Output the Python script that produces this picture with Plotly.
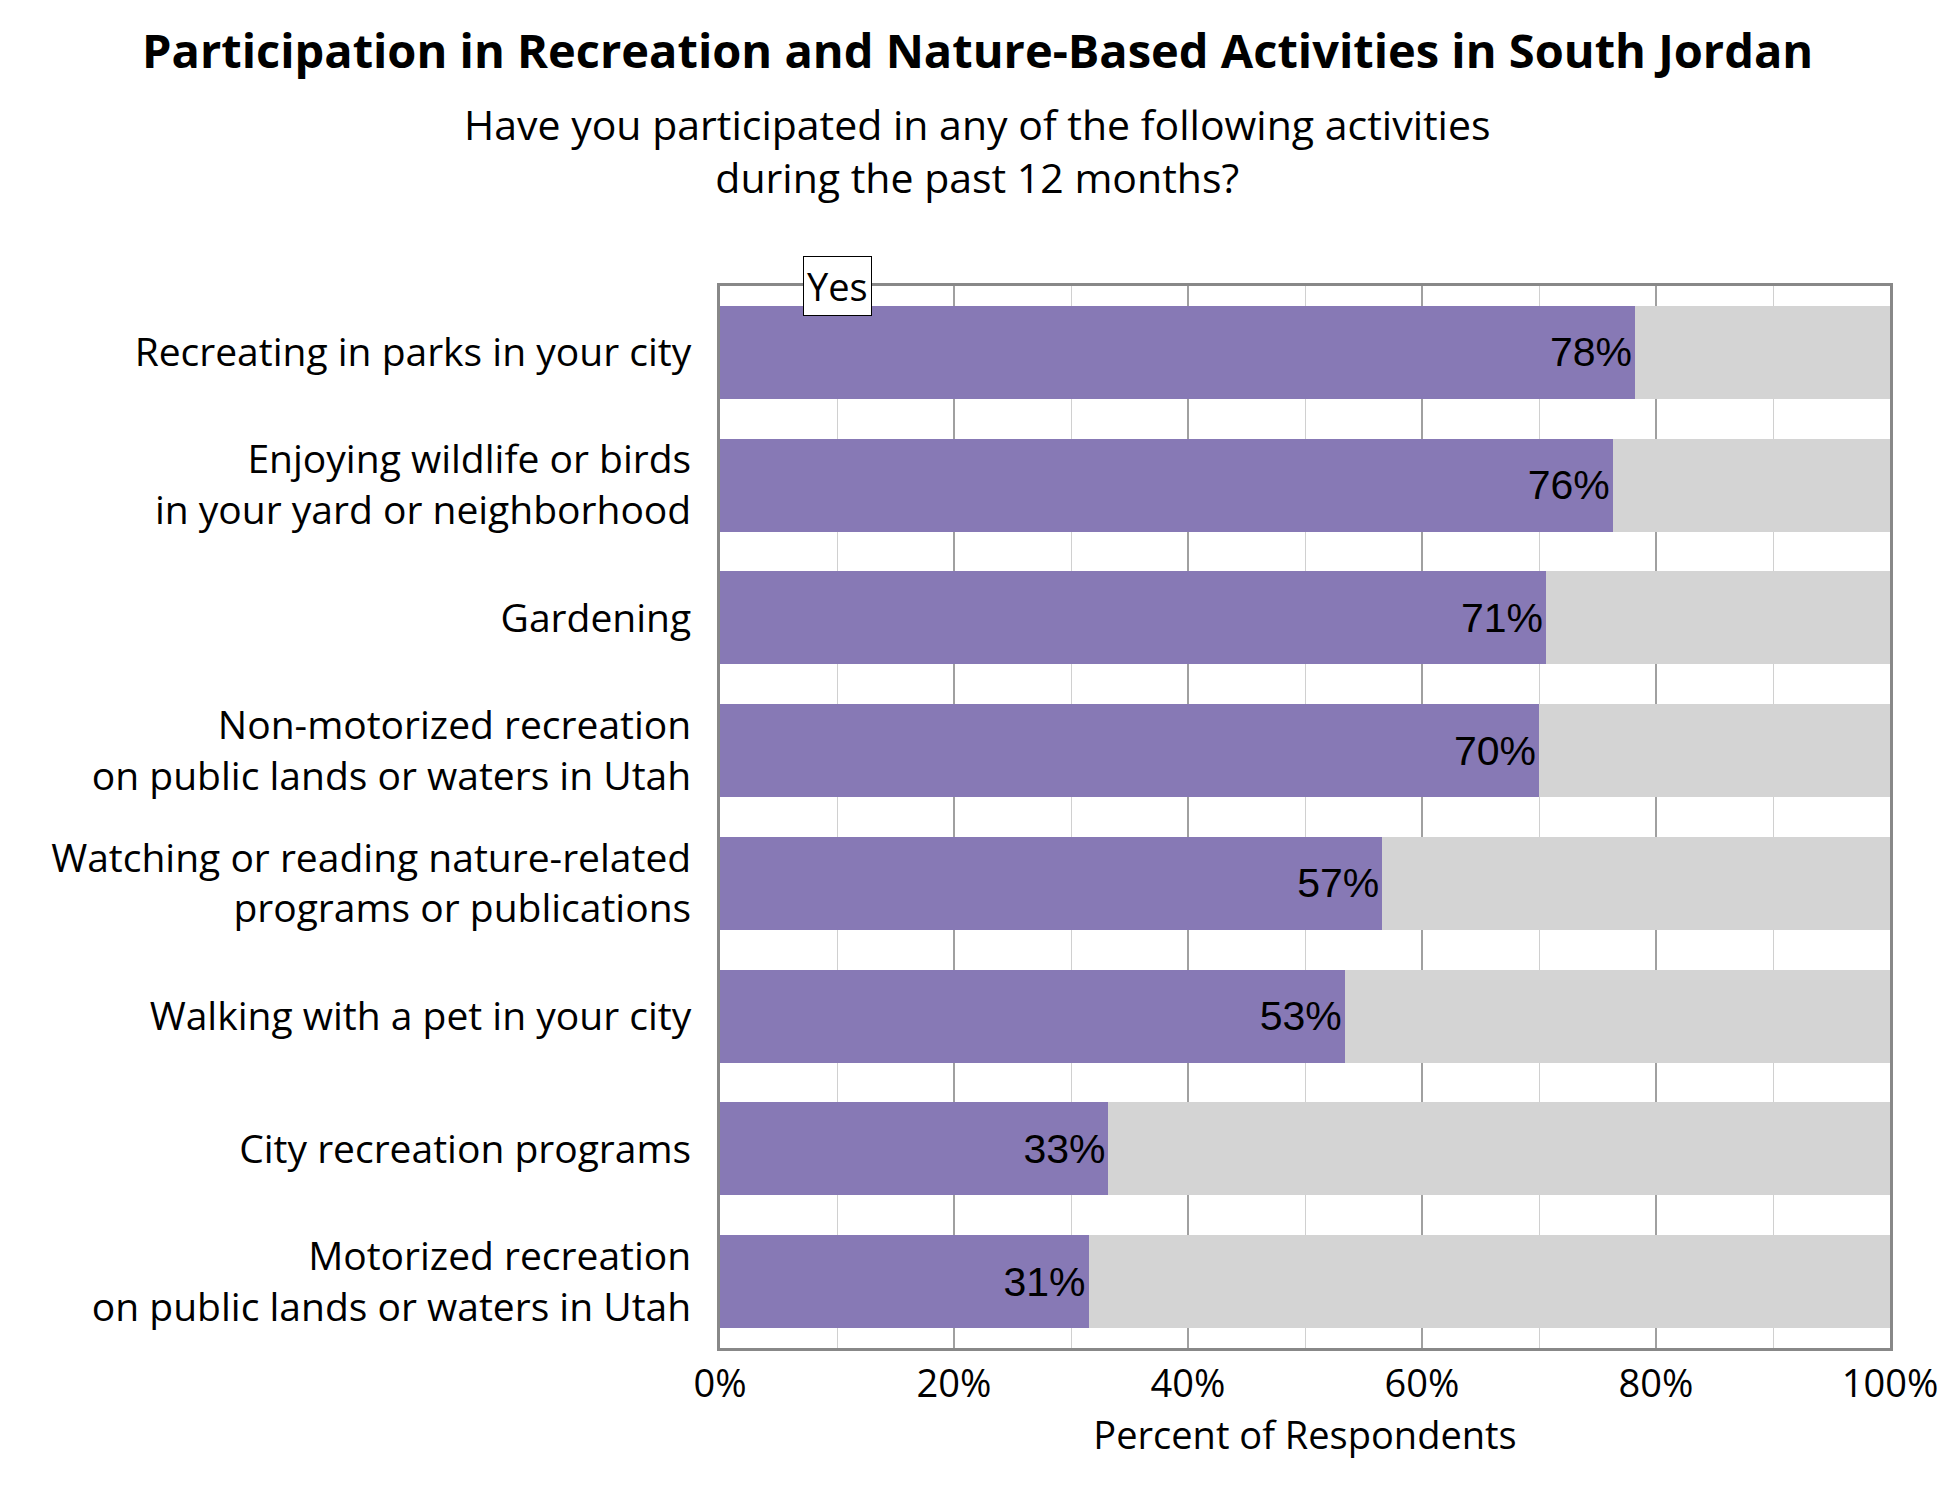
import plotly.graph_objects as go

activities = [
    "Recreating in parks in your city",
    "Enjoying wildlife or birds<br>in your yard or neighborhood",
    "Gardening",
    "Non-motorized recreation<br>on public lands or waters in Utah",
    "Watching or reading nature-related<br>programs or publications",
    "Walking with a pet in your city",
    "City recreation programs",
    "Motorized recreation<br>on public lands or waters in Utah",
]
yes_pct = [78.2, 76.3, 70.6, 70.0, 56.6, 53.4, 33.2, 31.5]
yes_labels = ["78%", "76%", "71%", "70%", "57%", "53%", "33%", "31%"]
rest_pct = [100 - v for v in yes_pct]

FONT = "Open Sans"

fig = go.Figure()
fig.add_trace(go.Bar(
    y=activities, x=yes_pct, orientation="h", name="Yes",
    marker=dict(color="#8779b5", line=dict(width=0)),
    text=yes_labels, textposition="inside", insidetextanchor="end",
    textfont=dict(family="Liberation Sans", size=41, color="black"),
))
fig.add_trace(go.Bar(
    y=activities, x=rest_pct, orientation="h", name="No",
    marker=dict(color="#d4d4d4", line=dict(width=0)),
    hoverinfo="skip",
))

fig.update_layout(
    barmode="stack", bargap=0.3, showlegend=False,
    width=1950, height=1500,
    paper_bgcolor="white", plot_bgcolor="white",
    font=dict(family=FONT, size=38, color="black"),
    margin=dict(l=712, r=68, t=278, b=160),
    xaxis=dict(
        range=[0, 100], tickvals=[0, 20, 40, 60, 80, 100],
        ticktext=["0%", "20%", "40%", "60%", "80%", "100%"],
        showgrid=True, gridcolor="#a0a0a0", gridwidth=2,
        minor=dict(tickvals=[10, 30, 50, 70, 90], showgrid=True, gridcolor="#d0d0d0", gridwidth=1),
        showline=True, linecolor="#888888", linewidth=3, mirror=True,
        title=dict(text="Percent of Respondents", font=dict(size=38), standoff=14),
        tickfont=dict(size=38), layer="below traces",
    ),
    yaxis=dict(
        autorange="reversed", showline=True, linecolor="#888888", linewidth=3, mirror=True,
        tickfont=dict(size=39), ticklabelstandoff=18,
    ),
)
fig.add_annotation(
    text="<b>Participation in Recreation and Nature-Based Activities in South Jordan</b>",
    xref="paper", yref="paper", x=0.22, y=1.222, xanchor="center", yanchor="middle",
    showarrow=False, font=dict(size=47, family=FONT),
)
fig.add_annotation(
    text="Have you participated in any of the following activities<br>during the past 12 months?",
    xref="paper", yref="paper", x=0.22, y=1.128, xanchor="center", yanchor="middle",
    showarrow=False, font=dict(size=41, family=FONT),
)
fig.add_annotation(
    text="Yes", xref="paper", yref="paper", x=0.1, y=1.0, xanchor="center", yanchor="middle",
    showarrow=False, font=dict(size=38, family=FONT), bgcolor="white",
    bordercolor="black", borderwidth=1, borderpad=3,
)

fig.write_html("out.html")
